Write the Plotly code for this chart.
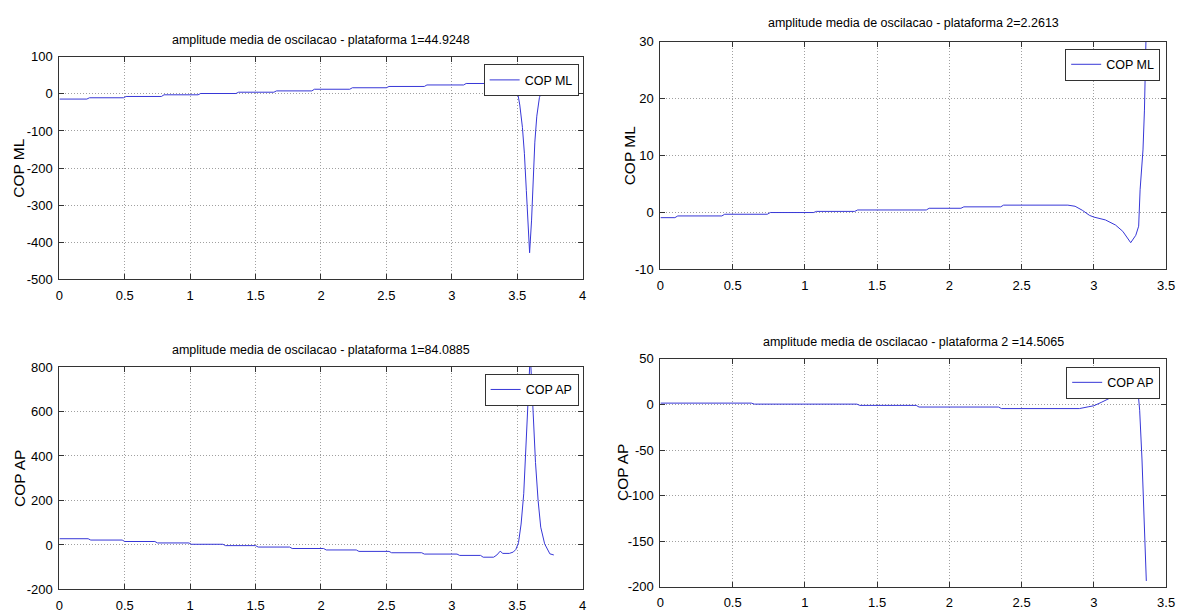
import plotly.graph_objects as go

# ---------------- data ----------------
# Plataforma 1 - COP ML
ml1_x = [0, 0.21, 0.23, 0.49, 0.51, 0.78, 0.80, 1.06, 1.08, 1.35, 1.37, 1.64, 1.66,
         1.93, 1.95, 2.22, 2.24, 2.50, 2.52, 2.79, 2.81, 3.09, 3.11, 3.40, 3.46,
         3.50, 3.52, 3.54, 3.555, 3.57, 3.58, 3.595, 3.61, 3.62, 3.635, 3.65,
         3.67, 3.69, 3.72]
ml1_y = [-14, -14, -10.5, -10.5, -7, -7, -2.5, -2.5, 1, 1, 4.5, 4.5, 8,
         8, 12.5, 12.5, 16.5, 16.5, 20, 20, 24, 24, 28, 28, 28,
         10, -30, -90, -160, -260, -340, -428, -340, -250, -130, -60,
         -10, 10, 30]

# Plataforma 1 - COP AP
ap1_x = [0, 0.22, 0.24, 0.48, 0.50, 0.73, 0.75, 0.99, 1.01, 1.25, 1.27, 1.50, 1.52,
         1.76, 1.78, 2.02, 2.04, 2.27, 2.29, 2.52, 2.54, 2.77, 2.79, 3.04, 3.06,
         3.22, 3.24, 3.32, 3.345, 3.37, 3.39, 3.44, 3.47, 3.49, 3.51, 3.53, 3.55,
         3.565, 3.58, 3.60, 3.62, 3.64, 3.66, 3.68, 3.71, 3.75, 3.78]
ap1_y = [28, 28, 22, 22, 15.5, 15.5, 9, 9, 3, 3, -3, -3, -9.5,
         -9.5, -16, -16, -22.5, -22.5, -29, -29, -35, -35, -41, -41, -47,
         -47, -55, -55, -45, -28, -38, -38, -32, -20, 10, 94, 230,
         400, 620, 860, 620, 371, 200, 80, 5, -40, -45]

# Plataforma 2 - COP ML
ml2_x = [0, 0.10, 0.12, 0.425, 0.445, 0.74, 0.76, 1.06, 1.08, 1.345, 1.365, 1.84, 1.86,
         2.08, 2.10, 2.355, 2.375, 2.82, 2.87, 2.92, 2.97, 3.0, 3.08, 3.15, 3.2,
         3.255, 3.29, 3.31, 3.32, 3.34, 3.35, 3.357, 3.362]
ml2_y = [-0.9, -0.9, -0.6, -0.6, -0.3, -0.3, 0.0, 0.0, 0.2, 0.2, 0.45, 0.45, 0.75,
         0.75, 1.0, 1.0, 1.3, 1.3, 1.1, 0.4, -0.5, -0.8, -1.3, -2.2, -3.3,
         -5.3, -4.0, -2.4, 4.0, 11.0, 18.0, 24.5, 32.0]

# Plataforma 2 - COP AP
ap2_x = [0, 0.63, 0.65, 1.36, 1.38, 1.77, 1.79, 2.34, 2.36, 2.90, 2.96, 3.0, 3.055,
         3.124, 3.17, 3.24, 3.306, 3.317, 3.333, 3.347, 3.356, 3.363]
ap2_y = [1.5, 1.5, 0.4, 0.4, -1.0, -1.0, -2.8, -2.8, -4.5, -4.5, -2.6, -1.4, 2.6,
         8.0, 13.3, 30.0, 13.3, -6.3, -59.8, -113, -167, -193.6]

titles = ["amplitude media de oscilacao - plataforma 1=44.9248",
          "amplitude media de oscilacao - plataforma 2=2.2613",
          "amplitude media de oscilacao - plataforma 1=84.0885",
          "amplitude media de oscilacao - plataforma 2 =14.5065"]
ylabels = ["COP ML", "COP ML", "COP AP", "COP AP"]
names = ["COP ML", "COP ML", "COP AP", "COP AP"]

x_ticks_4 = [0, 0.5, 1, 1.5, 2, 2.5, 3, 3.5, 4]
x_ticks_35 = [0, 0.5, 1, 1.5, 2, 2.5, 3, 3.5]
y_ticks_ml1 = [-500, -400, -300, -200, -100, 0, 100]
y_ticks_ml2 = [-10, 0, 10, 20, 30]
y_ticks_ap1 = [-200, 0, 200, 400, 600, 800]
y_ticks_ap2 = [-200, -150, -100, -50, 0, 50]

# ---------------- layout geometry (pixels of the reference) ----------------
W, H = 1185, 615
# [left, right, top, bottom] of each axes box
boxes = [(56, 585, 51, 279.3),
         (663.7, 1175, 35.7, 269),
         (56, 585, 369, 597),
         (663.7, 1175, 360.7, 594.3)]
xranges = [[0, 4], [0, 3.5], [0, 4], [0, 3.5]]
yranges = [[-500, 100], [-10, 30], [-200, 800], [-200, 50]]
xticks = [x_ticks_4, x_ticks_35, x_ticks_4, x_ticks_35]
yticks = [y_ticks_ml1, y_ticks_ml2, y_ticks_ap1, y_ticks_ap2]
title_y = [34, 16.5, 351.5, 343]
ylabel_pos = [(15, 165), (632, 152), (15, 483), (626, 477.5)]
legend_pos = [(581, 58.7), (1169, 42.7), (581, 376), (1169, 368.7)]


def fx(p):
    return p / W


def fy(p):
    return 1 - p / H


def lab(v):
    return ("%g" % v)


FONT = "Liberation Sans, Arial, sans-serif"
FS = 12.5
TFS = 13
LINE = "rgb(55,55,215)"

fig = go.Figure()
series = [(ml1_x, ml1_y), (ml2_x, ml2_y), (ap1_x, ap1_y), (ap2_x, ap2_y)]
annotations = []
layout = dict(width=W, height=H, margin=dict(l=0, r=0, t=0, b=0),
              paper_bgcolor="white", plot_bgcolor="white", showlegend=True)

for i, ((xs, ys), (l, r, t, b)) in enumerate(zip(series, boxes)):
    k = "" if i == 0 else str(i + 1)
    leg = "legend" if i == 0 else "legend" + str(i + 1)
    fig.add_trace(go.Scatter(x=xs, y=ys, mode="lines", name=names[i],
                             line=dict(color=LINE, width=1),
                             xaxis="x" + k, yaxis="y" + k, legend=leg,
                             hoverinfo="skip"))
    common = dict(showline=True, linecolor="#333", linewidth=1, mirror="ticks",
                  ticks="inside", ticklen=5, tickcolor="#333",
                  showgrid=True, gridcolor="#a0a0a0", griddash="1px,2px", gridwidth=1,
                  zeroline=False,
                  tickfont=dict(family=FONT, size=TFS, color="black"))
    layout["xaxis" + k] = dict(domain=[fx(l), fx(r)], range=xranges[i],
                               tickmode="array", tickvals=xticks[i],
                               ticktext=[lab(v) for v in xticks[i]],
                               anchor="y" + k, ticklabelstandoff=4, **common)
    layout["yaxis" + k] = dict(domain=[fy(b), fy(t)], range=yranges[i],
                               tickmode="array", tickvals=yticks[i],
                               ticktext=[lab(v) for v in yticks[i]],
                               anchor="x" + k, ticklabelstandoff=3, **common)
    lx, ly = legend_pos[i]
    layout[leg] = dict(x=fx(lx), y=fy(ly), xanchor="right", yanchor="top",
                       xref="paper", yref="paper",
                       bgcolor="white", bordercolor="#333", borderwidth=1,
                       font=dict(family=FONT, size=FS, color="black"),
                       itemwidth=30)
    annotations.append(dict(text=titles[i], x=fx((l + r) / 2), y=fy(title_y[i]),
                            xref="paper", yref="paper", showarrow=False,
                            xanchor="center", yanchor="middle",
                            font=dict(family=FONT, size=FS, color="black")))
    px, py = ylabel_pos[i]
    annotations.append(dict(text=ylabels[i], x=fx(px), y=fy(py),
                            xref="paper", yref="paper", showarrow=False,
                            xanchor="center", yanchor="middle", textangle=-90,
                            font=dict(family=FONT, size=15.5, color="black")))

layout["annotations"] = annotations
fig.update_layout(**layout)
# remove the browser's default 8 px page margin so the figure sits at (0, 0)
fig.write_html("out.html",
               config={"displayModeBar": False},
               post_script="document.body.style.margin='0px';")
